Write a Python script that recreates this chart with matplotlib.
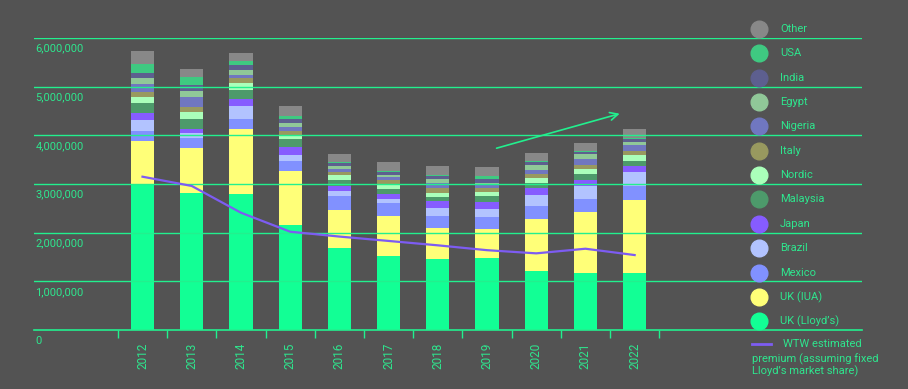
import matplotlib
matplotlib.use("Agg")
import matplotlib.pyplot as plt
from matplotlib.lines import Line2D
import numpy as np

plt.rcParams['font.family'] = ['Roboto', 'DejaVu Sans']

years = ['2012', '2013', '2014', '2015', '2016', '2017', '2018', '2019', '2020', '2021', '2022']

# premium by market, thousands (bottom of the stack first)
uk_lloyds = [3000, 2815, 2794, 2157, 1685, 1520, 1459, 1479, 1212, 1171, 1171]
uk_iua = [883, 924, 1336, 1110, 781, 822, 637, 596, 1069, 1253, 1500]
mexico = [206, 206, 205, 205, 287, 267, 246, 247, 267, 268, 288]
brazil = [226, 103, 267, 124, 103, 83, 165, 164, 226, 267, 287]
japan = [144, 82, 144, 164, 103, 102, 143, 144, 144, 123, 124]
malaysia = [205, 205, 185, 164, 123, 103, 83, 123, 102, 123, 102]
nordic = [123, 144, 144, 62, 103, 82, 82, 82, 103, 103, 124]
italy = [103, 103, 103, 103, 61, 103, 103, 83, 82, 82, 82]
nigeria = [164, 205, 61, 82, 62, 62, 102, 61, 82, 123, 123]
egypt = [124, 124, 103, 82, 62, 41, 83, 41, 103, 103, 62]
india = [103, 123, 103, 82, 61, 61, 61, 83, 62, 41, 61]
usa = [184, 164, 82, 62, 21, 21, 21, 61, 20, 21, 21]
other = [268, 165, 164, 205, 164, 185, 185, 185, 165, 164, 185]

wtw_estimate = [3150, 2960, 2410, 2020, 1920, 1830, 1740, 1640, 1575, 1670, 1540]

series = [
    ("UK (Lloyd\u2019s)", uk_lloyds, '#12ff95'),
    ("UK (IUA)", uk_iua, '#ffff78'),
    ("Mexico", mexico, '#8191ff'),
    ("Brazil", brazil, '#b2c3ff'),
    ("Japan", japan, '#865cff'),
    ("Malaysia", malaysia, '#4d9a6b'),
    ("Nordic", nordic, '#aaffba'),
    ("Italy", italy, '#98995f'),
    ("Nigeria", nigeria, '#7077c0'),
    ("Egypt", egypt, '#90c898'),
    ("India", india, '#5d5f8f'),
    ("USA", usa, '#3fc981'),
    ("Other", other, '#888888'),
]

bg = '#535353'
green = '#22f08e'
text_green = '#2ee68e'
purple = '#7d5cf2'

W, H = 908, 389
fig = plt.figure(figsize=(W / 100, H / 100), dpi=100, facecolor=bg)
ax = fig.add_axes([34 / W, 1 - 330 / H, 828 / W, 292 / H])
ax.set_facecolor(bg)

x = np.arange(len(years))
bottom = np.zeros(len(years))
for name, vals, col in series:
    v = np.array(vals) * 1000
    ax.bar(x, v, width=0.47, bottom=bottom, color=col, zorder=2, linewidth=0)
    bottom += v

ax.plot(x, np.array(wtw_estimate) * 1000, color=purple, lw=1.6, zorder=5)

# gridlines sit over the bars
for g in range(1, 7):
    ax.axhline(g * 1e6, color=green, lw=1, zorder=3)

ax.annotate('', xy=(9.75, 4.46e6), xytext=(7.14, 3.72e6),
            arrowprops=dict(arrowstyle='->', color=green, lw=1.2,
                            mutation_scale=14), zorder=6)

ax.set_xlim(-2.205, 14.62)
ax.set_ylim(0, 6e6)
for s in ['top', 'right', 'left']:
    ax.spines[s].set_visible(False)
ax.spines['bottom'].set_color(green)
ax.spines['bottom'].set_linewidth(1.2)

ax.set_yticks([])
ax.set_xticks(x)
ax.set_xticklabels(years, rotation=90, color=text_green, fontsize=8.5)
ax.tick_params(axis='x', which='major', length=0, pad=9)
ax.set_xticks(np.arange(-0.5, len(years)), minor=True)
ax.tick_params(axis='x', which='minor', length=6, color=green, width=1)

for g in range(0, 7):
    ax.annotate(f"{g * 1000000:,}", xy=(0, g * 1e6),
                xycoords=('axes fraction', 'data'), xytext=(1, -4),
                textcoords='offset points', ha='left', va='top',
                color=text_green, fontsize=8)

# legend, drawn by hand to follow the original layout
for k, (name, vals, col) in enumerate(series[::-1]):
    yy = 1 - (29 + 24.35 * k) / H
    fig.add_artist(Line2D([759 / W], [yy], marker='o', markersize=12,
                          color=col, transform=fig.transFigure, lw=0))
    fig.text(780 / W, yy, name, color=text_green, fontsize=8, va='center')

yl = 1 - 344 / H
fig.add_artist(Line2D([752 / W, 771 / W], [yl, yl], color=purple, lw=2,
                      transform=fig.transFigure))
fig.text(783 / W, yl, "WTW estimated", color=text_green, fontsize=8, va='center')
fig.text(752 / W, 1 - 359 / H, "premium (assuming fixed", color=text_green,
         fontsize=8, va='center')
fig.text(752 / W, 1 - 371 / H, "Lloyd\u2019s market share)", color=text_green,
         fontsize=8, va='center')

fig.savefig('out.png', dpi=100, facecolor=bg)
